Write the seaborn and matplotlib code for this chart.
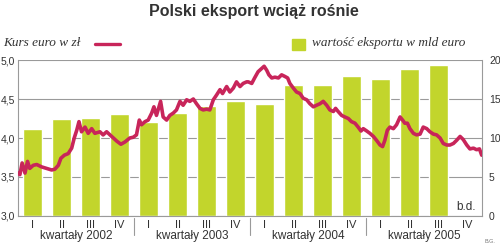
import numpy as np
import pandas as pd
import matplotlib
matplotlib.use("Agg")
import matplotlib.pyplot as plt
import matplotlib.transforms as mtrans
import seaborn as sns

# ---- data ----
years = ["2002", "2003", "2004", "2005"]
quarter_names = ["I", "II", "III", "IV"]
export_values = [11.2, 12.4, 12.6, 13.1,
                 12.1, 13.2, 14.1, 14.7,
                 14.4, 16.8, 16.8, 18.0,
                 17.6, 18.8, 19.3, np.nan]

rate_dates = [
    "2002-01-01", "2002-01-07", "2002-01-14", "2002-01-23", "2002-01-31", "2002-02-07",
    "2002-02-18", "2002-03-01", "2002-03-16", "2002-04-01", "2002-04-17", "2002-04-27",
    "2002-05-08", "2002-05-16", "2002-05-27", "2002-06-08", "2002-06-19", "2002-06-27",
    "2002-07-05", "2002-07-12", "2002-07-20", "2002-07-31", "2002-08-10", "2002-08-21",
    "2002-08-31", "2002-09-16", "2002-09-26", "2002-10-07", "2002-10-23", "2002-11-08",
    "2002-11-21", "2002-12-04", "2002-12-19", "2002-12-30",
    "2003-01-09", "2003-01-18", "2003-01-25", "2003-02-05", "2003-02-15", "2003-02-26",
    "2003-03-05", "2003-03-13", "2003-03-26", "2003-04-03", "2003-04-14", "2003-04-24",
    "2003-05-05", "2003-05-15", "2003-05-26", "2003-06-05", "2003-06-16", "2003-06-26",
    "2003-07-07", "2003-07-17", "2003-07-28", "2003-08-07", "2003-08-18", "2003-08-28",
    "2003-09-08", "2003-09-18", "2003-09-29", "2003-10-07", "2003-10-20", "2003-10-30",
    "2003-11-10", "2003-11-20", "2003-12-01", "2003-12-11", "2003-12-22", "2003-12-27",
    "2004-01-07", "2004-01-16", "2004-01-27", "2004-02-07", "2004-02-15", "2004-02-23",
    "2004-03-01", "2004-03-10", "2004-03-20", "2004-03-31", "2004-04-10", "2004-04-20",
    "2004-04-29", "2004-05-06", "2004-05-17", "2004-05-27", "2004-06-07", "2004-06-17",
    "2004-06-28", "2004-07-08", "2004-07-19", "2004-07-29", "2004-08-09", "2004-08-19",
    "2004-08-30", "2004-09-09", "2004-09-20", "2004-09-27", "2004-10-05", "2004-10-16",
    "2004-10-26", "2004-11-06", "2004-11-16", "2004-11-27", "2004-12-07", "2004-12-16",
    "2004-12-23",
    "2005-01-03", "2005-01-13", "2005-01-24", "2005-02-03", "2005-02-14", "2005-02-22",
    "2005-03-01", "2005-03-09", "2005-03-17", "2005-03-28", "2005-04-07", "2005-04-18",
    "2005-04-26", "2005-05-03", "2005-05-11", "2005-05-19", "2005-05-30", "2005-06-09",
    "2005-06-20", "2005-06-30", "2005-07-11", "2005-07-21", "2005-08-01", "2005-08-11",
    "2005-08-22", "2005-09-01", "2005-09-12", "2005-09-22", "2005-10-03", "2005-10-13",
    "2005-10-24", "2005-11-03", "2005-11-14", "2005-11-24", "2005-12-05", "2005-12-15",
    "2005-12-24", "2005-12-31",
]
rate_values = [
    3.55, 3.53, 3.68, 3.55, 3.70, 3.61,
    3.65, 3.66, 3.63, 3.61, 3.59, 3.60,
    3.65, 3.74, 3.78, 3.80, 3.87, 4.00,
    4.10, 4.21, 4.08, 4.14, 4.06, 4.12,
    4.06, 4.08, 4.04, 4.08, 4.02, 3.96,
    3.92, 3.95, 4.00, 4.01,
    4.04, 4.23, 4.17, 4.21, 4.23, 4.32,
    4.40, 4.29, 4.47, 4.27, 4.23, 4.29,
    4.32, 4.36, 4.47, 4.42, 4.49, 4.47,
    4.50, 4.44, 4.38, 4.36, 4.37, 4.36,
    4.49, 4.55, 4.62, 4.57, 4.66, 4.59,
    4.64, 4.72, 4.66, 4.70, 4.72, 4.72,
    4.70, 4.77, 4.85, 4.89, 4.92, 4.87,
    4.81, 4.77, 4.78, 4.77, 4.81, 4.79,
    4.77, 4.70, 4.64, 4.59, 4.57, 4.51,
    4.49, 4.44, 4.40, 4.42, 4.44, 4.47,
    4.42, 4.36, 4.34, 4.38, 4.34, 4.29,
    4.27, 4.25, 4.21, 4.19, 4.14, 4.09,
    4.12,
    4.09, 4.06, 4.02, 3.97, 3.91, 3.89,
    3.97, 4.10, 4.14, 4.12, 4.17, 4.27,
    4.23, 4.19, 4.19, 4.12, 4.06, 4.04,
    4.05, 4.14, 4.12, 4.08, 4.05, 4.04,
    4.00, 3.93, 3.91, 3.91, 3.93, 3.97,
    4.02, 3.98, 3.91, 3.86, 3.87, 3.85,
    3.86, 3.78,
]

left_ticks = [3.0, 3.5, 4.0, 4.5, 5.0]
left_tick_labels = ["3,0", "3,5", "4,0", "4,5", "5,0"]
right_ticks = [0, 5, 10, 15, 20]

title = "Polski eksport wciąż rośnie"
line_label = "Kurs euro w zł"
bar_label = "wartość eksportu w mld euro"
year_prefix = "kwartały"
missing_label = "b.d."
credit = "B.G."

BAR_COLOR = "#c2d52c"
LINE_COLOR = "#c8255a"
GRID = "#9a9a9a"
TEXT = "#333333"

# ---- frames ----
q_labels = [f"{q} {y}" for y in years for q in quarter_names]
bars = pd.DataFrame({"quarter": q_labels, "value": export_values})

start = pd.Timestamp("2002-01-01")
quarter_days = (pd.Timestamp("2006-01-01") - start).days / 16.0
rate = pd.DataFrame({"date": pd.to_datetime(rate_dates), "rate": rate_values})
rate["pos"] = (rate["date"] - start).dt.days / quarter_days - 0.5

sns.set_theme(style="white")
plt.rcParams["font.family"] = ["Liberation Sans", "DejaVu Sans"]

fig = plt.figure(figsize=(5.0, 2.46), dpi=100)
ax = fig.add_axes([0.036, 0.122, 0.928, 0.634])
ax2 = ax.twinx()

sns.barplot(data=bars, x="quarter", y="value", order=q_labels,
            color=BAR_COLOR, width=0.65, saturation=1, ax=ax, zorder=2)
sns.lineplot(data=rate, x="pos", y="rate", color=LINE_COLOR, lw=2.6,
             ax=ax2, solid_capstyle="round", solid_joinstyle="round")

# bars axis: values on the right
ax.set_ylim(0, 20)
ax.set_xlim(-0.5, 15.5)
ax.set_yticks(right_ticks)
ax.set_yticklabels([str(t) for t in right_ticks])
ax.set_xticks(range(16))
ax.set_xticklabels(quarter_names * 4)
ax.set_xlabel("")
ax.set_ylabel("")
for t in right_ticks:
    ax.axhline(t, color=GRID, lw=0.8, zorder=1)
ax.tick_params(axis="y", left=False, labelleft=False, right=False, labelright=True,
               length=0, pad=5, labelsize=7.5, labelcolor=TEXT)
ax.tick_params(axis="x", length=0, pad=3, labelsize=8, labelcolor=TEXT)
for s in ["left", "right", "bottom"]:
    ax.spines[s].set_color(GRID)
    ax.spines[s].set_linewidth(0.8)
ax.spines["top"].set_visible(False)

# exchange-rate axis: values on the left
ax2.set_ylim(3.0, 5.0)
ax2.set_xlim(-0.5, 15.5)
ax2.set_yticks(left_ticks)
ax2.set_yticklabels(left_tick_labels)
ax2.tick_params(axis="y", left=False, labelleft=True, right=False, labelright=False,
                length=0, pad=2, labelsize=7.5, labelcolor=TEXT)
ax2.set_xlabel("")
ax2.set_ylabel("")
for s in ax2.spines.values():
    s.set_visible(False)

# year labels and separators below the axis
trans = mtrans.blended_transform_factory(ax.transData, ax.transAxes)
for i, y in enumerate(years):
    ax.text(i * 4 + 1.5, -0.13, f"{year_prefix} {y}", transform=trans,
            ha="center", va="center", fontsize=8.5, color=TEXT)
    if i > 0:
        ax.plot([i * 4 - 0.5, i * 4 - 0.5], [-0.015, -0.12], transform=trans,
                color=GRID, lw=0.8, clip_on=False)
ax.text(15.3, 0.055, missing_label, transform=trans, ha="right", va="center",
        fontsize=8.5, color=TEXT)

fig.text(0.508, 0.955, title, ha="center", va="center", fontsize=11.5,
         fontweight="bold", color=TEXT)
fig.text(0.006, 0.825, line_label, ha="left", va="center", fontsize=9.5,
         style="italic", family="Liberation Serif", color=TEXT)
fig.lines.append(plt.Line2D([0.19, 0.24], [0.823, 0.823], transform=fig.transFigure,
                            color=LINE_COLOR, lw=2.4, solid_capstyle="round"))
fig.patches.append(plt.Rectangle((0.584, 0.797), 0.026, 0.045, transform=fig.transFigure,
                                 color=BAR_COLOR))
fig.text(0.624, 0.825, bar_label, ha="left", va="center", fontsize=9.5,
         style="italic", family="Liberation Serif", color=TEXT)
fig.text(0.99, 0.02, credit, ha="right", va="center", fontsize=4, color="#777777")

fig.savefig("out.png", dpi=100)
